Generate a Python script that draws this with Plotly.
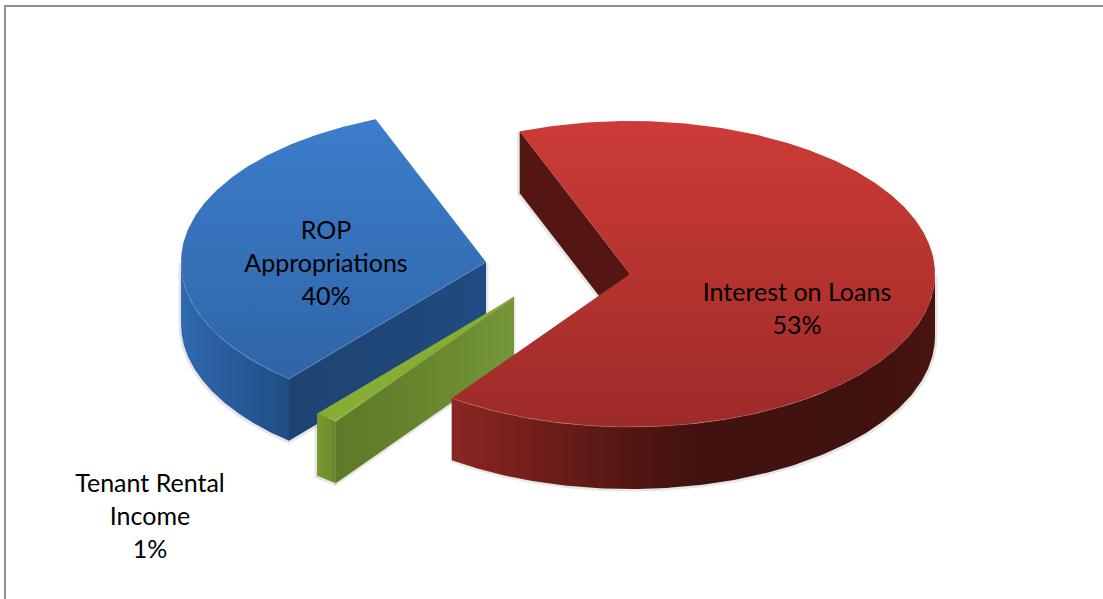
import numpy as np
import plotly.graph_objects as go

# Shares of funding, in percent
categories = ["Interest on Loans", "Tenant Rental Income", "ROP Appropriations"]
shares = [53, 1, 40]
label_lines = [["Interest on Loans"], ["Tenant Rental", "Income"], ["ROP", "Appropriations"]]

# View of the tilted disc
RX, RY, DEPTH = 305.0, 153.0, 62.0
START = -21.2            # where the first slice begins, degrees clockwise from the top
WARP_AMP = 0.3868        # perspective opening of the near side of the disc
WARP_PHASE = -140.0
CENTRES = [(630.0, 274.0), (514.0, 297.0), (486.0, 262.0)]   # exploded slice apexes
LABEL_XY = [(797, 295), (150, 486), (326, 233)]
LINE_STEP = 33


def view_angle(t):
    """Pie angle (deg from the first slice) to its angle on the tilted ellipse."""
    r = np.radians(t + WARP_PHASE)
    return START + t + np.degrees(WARP_AMP * (np.sin(r) - np.sin(np.radians(WARP_PHASE))))


def rim(c, a0, a1, drop=0.0, n=160):
    a = np.radians(np.linspace(a0, a1, n))
    return c[0] + RX * np.sin(a), c[1] - RY * np.cos(a) + drop


def poly(xs, ys):
    return np.concatenate(xs + [xs[0][:1]]), np.concatenate(ys + [ys[0][:1]])


def scale(stops, x0, x1):
    return [[(x - x0) / (x1 - x0), col] for x, col in stops]


fig = go.Figure()


def add_face(x, y, name, solid=None, grad=None, orient="horizontal", rng=None):
    kw = dict(x=x, y=y, mode="lines", name=name, fill="toself", hoverinfo="skip",
              showlegend=False, line=dict(width=0))
    if grad:
        kw["fillgradient"] = dict(type=orient, colorscale=scale(grad, *rng),
                                  start=rng[0], stop=rng[1])
    else:
        kw["fillcolor"] = solid
    fig.add_trace(go.Scatter(**kw))


def add_edge(x, y, name, color, width):
    fig.add_trace(go.Scatter(x=x, y=y, mode="lines", name=name, hoverinfo="skip",
                             showlegend=False, line=dict(color=color, width=width)))


totals = np.cumsum([0] + shares) / sum(shares) * 360.0
bounds = [float(view_angle(t)) for t in totals]
(r0, r1), (g0, g1), (b0, b1) = [(bounds[i], bounds[i + 1]) for i in range(3)]
red_c, green_c, blue_c = CENTRES
SHADOW = "rgba(60,60,60,0.13)"

# ROP Appropriations, sitting furthest back
ax, ay = rim(blue_c, b0, 270)
bx, by = rim(blue_c, 270, b0, DEPTH)
sx, sy = poly([ax, bx], [ay, by])
add_edge(sx - 1, sy + 1, "blue shadow", SHADOW, 3)
add_face(sx, sy, "blue outer wall",
         grad=[(182, "#3069AD"), (235, "#285A99"), (290, "#1F4D85")], rng=(182, 290))
cx, cy = rim(blue_c, b0, b0, n=1)
wx = np.array([blue_c[0], cx[0], cx[0], blue_c[0], blue_c[0]])
wy = np.array([blue_c[1], cy[0], cy[0] + DEPTH, blue_c[1] + DEPTH, blue_c[1]])
add_edge(wx + 1, wy + 1, "blue wall shadow", SHADOW, 3)
add_face(wx, wy, "blue cut wall",
         grad=[(290, "#1E4372"), (400, "#1F4777"), (486, "#214C82")], rng=(290, 486))
tx, ty = rim(blue_c, b0, b1)
add_face(np.r_[blue_c[0], tx, blue_c[0]], np.r_[blue_c[1], ty, blue_c[1]], "blue top",
         grad=[(121, "#3C7DCB"), (260, "#3570B8"), (378, "#2F65A6")], orient="vertical",
         rng=(121, 378))
ex, ey = rim(blue_c, b0, 262)
add_edge(np.r_[blue_c[0], ex], np.r_[blue_c[1], ey], "blue rim", "rgba(120,165,220,0.45)", 1)

# Tenant Rental Income, the thin sliver between the other two
ax, ay = rim(green_c, g0, g1)
bx, by = rim(green_c, g1, g0, DEPTH)
sx, sy = poly([ax, bx], [ay, by])
add_edge(sx - 1, sy + 1, "green shadow", SHADOW, 3)
add_face(sx, sy, "green outer wall",
         grad=[(317, "#789A30"), (335, "#6A8A2A")], rng=(317, 335))
cx, cy = rim(green_c, g0, g0, n=1)
wx = np.array([green_c[0], cx[0], cx[0], green_c[0], green_c[0]])
wy = np.array([green_c[1], cy[0], cy[0] + DEPTH, green_c[1] + DEPTH, green_c[1]])
add_edge(wx, wy + 1, "green wall shadow", SHADOW, 3)
add_face(wx, wy, "green cut wall",
         grad=[(335, "#5C7A28"), (420, "#67852D"), (513, "#759639")], rng=(335, 513))
tx, ty = rim(green_c, g0, g1)
add_face(np.r_[green_c[0], tx, green_c[0]], np.r_[green_c[1], ty, green_c[1]], "green top",
         solid="#87AD37")
add_edge(np.r_[green_c[0], cx[0]], np.r_[green_c[1], cy[0]], "green rim", "#87AD37", 1.5)

# Interest on Loans, in front of everything
ax, ay = rim(red_c, 90, r1)
bx, by = rim(red_c, r1, 90, DEPTH)
sx, sy = poly([ax, bx], [ay, by])
add_edge(sx + 1, sy + 1, "red shadow", SHADOW, 3)
add_face(sx, sy, "red outer wall",
         grad=[(453, "#8A2522"), (520, "#76201C"), (620, "#561713"), (700, "#411210"),
               (860, "#3F110F"), (936, "#49140F")], rng=(453, 936))
cx, cy = rim(red_c, r0, r0, n=1)
wx = np.array([red_c[0], cx[0], cx[0], red_c[0], red_c[0]])
wy = np.array([red_c[1], cy[0], cy[0] + DEPTH, red_c[1] + DEPTH, red_c[1]])
add_edge(wx - 1, wy + 1, "red wall shadow", SHADOW, 3)
add_face(wx, wy, "red cut wall", solid="#531612")
tx, ty = rim(red_c, r0, r1, n=360)
add_face(np.r_[red_c[0], tx, red_c[0]], np.r_[red_c[1], ty, red_c[1]], "red top",
         grad=[(122, "#CC3B37"), (270, "#B6332F"), (428, "#9C2B29")], orient="vertical",
         rng=(122, 428))
ex, ey = rim(red_c, 140, r1)
add_edge(ex, ey, "red rim", "rgba(240,150,140,0.30)", 1)

# Labels: category lines followed by the share
for (lx, ly), lines, share in zip(LABEL_XY, label_lines, shares):
    for i, line in enumerate(lines + [f"{share}%"]):
        fig.add_trace(go.Scatter(x=[lx], y=[ly + i * LINE_STEP], mode="text", text=[line],
                                 textposition="middle center", hoverinfo="skip", showlegend=False,
                                 textfont=dict(family="Lato", size=25, color="#000000")))

fig.update_layout(
    width=1103, height=599, margin=dict(l=0, r=0, t=0, b=0, pad=0),
    paper_bgcolor="white", plot_bgcolor="white",
    xaxis=dict(range=[0, 1103], visible=False, domain=[0, 1], fixedrange=True),
    yaxis=dict(range=[599, 0], visible=False, domain=[0, 1], fixedrange=True),
    shapes=[
        dict(type="line", x0=5, x1=1103, y0=6, y1=6, line=dict(color="#8f8f8f", width=2)),
        dict(type="line", x0=5, x1=5, y0=5, y1=599, line=dict(color="#8f8f8f", width=2)),
    ],
)
fig.write_html("out.html", config={"displayModeBar": False})
